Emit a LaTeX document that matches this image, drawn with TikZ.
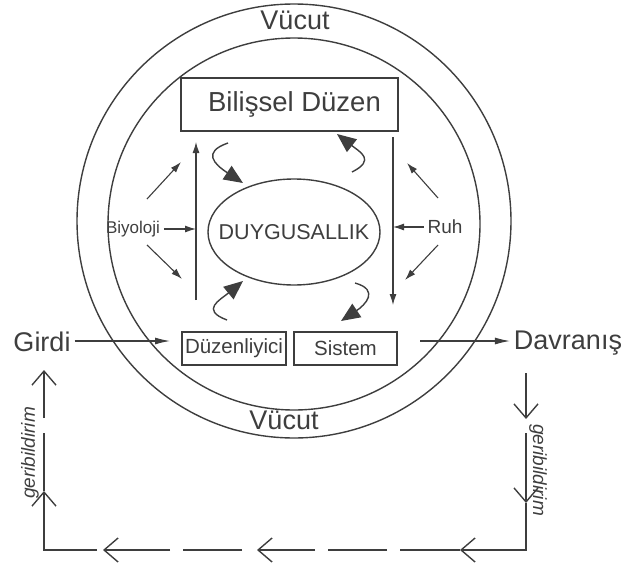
\documentclass[tikz,border=0pt]{standalone}
\usepackage{fontspec}
\setmainfont{Liberation Sans}
\usetikzlibrary{calc,arrows.meta,shapes.geometric}
\definecolor{ink}{RGB}{62,62,62}
\newcommand\fs[1]{\fontsize{#1}{#1}\selectfont}

\begin{document}
\begin{tikzpicture}[x=1pt,y=-1pt,color=ink,line width=1.4pt,
  box/.style={draw,rectangle,inner sep=0pt},
  thin/.style={line width=1.1pt,-{Latex[length=11pt,width=7pt]}},
  flow/.style={line width=1.1pt,-{Latex[length=15pt,width=7pt]}},
  curly/.style={line width=1.4pt,-{Triangle[length=19pt,width=16pt]}},
  fb/.style={-{Straight Barb[length=14pt,width=24pt]}}]
\useasboundingbox (0,0) rectangle (632,570);
% body rings
\draw (294,221) circle [radius=217pt];
\draw (294,224) circle [radius=186pt];
\node (vtop) at (295,20) {\fs{27}Vücut};
\node (vbot) at (284,420) {\fs{27}Vücut};
% inside
\node[box,minimum width=217pt,minimum height=53pt] (bil) at (289.5,104.5) {\fs{27.5}\hspace*{10pt}Bilişsel Düzen};
\node[draw,ellipse,inner sep=0pt,minimum width=172pt,minimum height=106pt] (duy) at (294,232) {};
\node (duytext) at (duy.center) {\fs{21.5}DUYGUSALLIK};
\node[box,minimum width=104pt,minimum height=33pt] (duz) at (234,348.5) {\fs{20.5}Düzenliyici};
\node[box,minimum width=103pt,minimum height=33pt] (sis) at (345.5,348.5) {\fs{20.5}Sistem};
\node (biyo) at (133,229) {\fs{17}Biyoloji};
\node (ruh) at (445,227) {\fs{19}Ruh};
\coordinate (lup) at (196,142);
\coordinate (llo) at (196,300);
\coordinate (rup) at (393,137);
\coordinate (rlo) at (393,305);
\draw[thin] (llo) -- (lup);
\draw[thin] (rup) -- (rlo);
\draw[thin] (biyo.east) -- (biyo.east -| lup);
\draw[thin] (ruh.west) -- (ruh.west -| rup);
\draw[thin] ($(biyo)+(14,-30)$) -- ($(biyo)+(48,-67)$);
\draw[thin] ($(biyo)+(14,16)$) -- ($(biyo)+(49,50)$);
\draw[thin] ($(ruh)+(-7,-29)$) -- ($(ruh)+(-38,-64)$);
\draw[thin] ($(ruh)+(-7,18)$) -- ($(ruh)+(-40,53)$);
\draw[curly] (228,143) .. controls (202,152) and (214,164) .. (243,183);
\draw[curly] (352,172) .. controls (376,160) and (360,152) .. (337,134);
\draw[curly] (227,320) .. controls (200,310) and (220,300) .. (243,281);
\draw[curly] (355,283) .. controls (380,290) and (365,305) .. (341,321);
% in and out
\node (girdi) at (42,342) {\fs{27}Girdi};
\node (davr) at (568,343) {\fs{27}Davranış};
\coordinate (gin) at (170,341);
\coordinate (dout) at (420,341);
\draw[flow] (girdi.east |- gin) -- (gin);
\draw[flow] (dout) -- (dout -| davr.west);
% feedback loop
\draw[fb] (526,373) -- (526,419);
\draw[fb] (526,433) -- (526,503);
\draw[fb] (526,503) -- (526,550) -- (460,550);
\foreach \a/\b in {460/400,387/328,242/183}
  \draw (\a,550) -- (\b,550);
\foreach \a/\b in {315/257,170/103}
  \draw[fb] (\a,550) -- (\b,550);
\draw[fb] (97,550) -- (44,550) -- (44,491);
\draw (44,491) -- (44,433);
\draw[fb] (44,418) -- (44,370);
\node[rotate=90] (gbl) at (30,453) {\fs{19}\itshape geribildirim};
\node[rotate=-90] (gbr) at (538,470) {\fs{19}\itshape geribildirim};
\end{tikzpicture}
\end{document}
